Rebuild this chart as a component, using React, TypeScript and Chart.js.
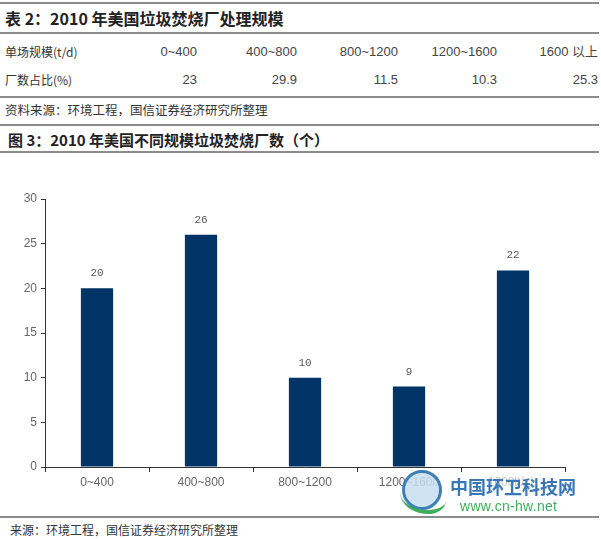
import React, { useEffect, useRef } from "react";
import { Chart, registerables } from "chart.js";

Chart.register(...registerables);

const tableTitle = "表 2：2010 年美国垃圾焚烧厂处理规模";
const tableRowLabels = ["单场规模(t/d)", "厂数占比(%)"];
const tableScales = ["0~400", "400~800", "800~1200", "1200~1600", "1600 以上"];
const tableShares = ["23", "29.9", "11.5", "10.3", "25.3"];
const tableSource = "资料来源：环境工程，国信证券经济研究所整理";

const chartTitle = "图 3：2010 年美国不同规模垃圾焚烧厂数（个）";
const categories = ["0~400", "400~800", "800~1200", "1200~1600", "1600以上"];
const plantCounts = [20, 26, 10, 9, 22];
const yTicks = [0, 5, 10, 15, 20, 25, 30];
const chartSource = "来源：环境工程，国信证券经济研究所整理";

const LINE = "#8c8c8c";
const CJK = '"Noto Sans CJK SC", "Noto Sans", sans-serif';

const hLine = (top: number, width = 599): React.CSSProperties => ({
  position: "absolute",
  left: 0,
  top,
  width,
  height: 2,
  background: LINE,
});

const valueLabelPlugin = {
  id: "valueLabels",
  afterDatasetsDraw(chart: any) {
    const ctx = chart.ctx;
    const meta = chart.getDatasetMeta(0);
    ctx.save();
    ctx.font = '11px "Liberation Mono", monospace';
    ctx.fillStyle = "#555";
    ctx.textAlign = "center";
    ctx.textBaseline = "middle";
    meta.data.forEach((bar: any, i: number) => {
      ctx.fillText(String(chart.data.datasets[0].data[i]), bar.x, bar.y - 15);
    });
    ctx.restore();
  },
};

function BarChart() {
  const ref = useRef<HTMLCanvasElement>(null);
  useEffect(() => {
    if (!ref.current) return;
    const chart = new Chart(ref.current, {
      type: "bar",
      data: {
        labels: categories,
        datasets: [
          {
            data: plantCounts,
            backgroundColor: "#003366",
            borderWidth: 0,
            categoryPercentage: 1,
            barPercentage: 0.31,
          },
        ],
      },
      options: {
        animation: false,
        responsive: false,
        maintainAspectRatio: false,
        layout: { padding: { top: 39, right: 36, left: 0, bottom: 0 } },
        plugins: { legend: { display: false }, tooltip: { enabled: false } },
        scales: {
          x: {
            offset: true,
            afterFit: (s: any) => {
              s.height = 38;
            },
            grid: {
              display: true,
              offset: true,
              drawOnChartArea: false,
              drawTicks: true,
              tickLength: 5,
              color: "#333",
            },
            border: { display: true, color: "#333", width: 1 },
            ticks: {
              color: "#666",
              font: { family: '"Liberation Sans", Arial, sans-serif', size: 12 },
              padding: 3,
            },
          },
          y: {
            min: 0,
            max: 30,
            afterFit: (s: any) => {
              s.width = 45;
            },
            afterBuildTicks: (s: any) => {
              s.ticks = yTicks.map((v) => ({ value: v }));
            },
            grid: {
              display: true,
              drawOnChartArea: false,
              drawTicks: true,
              tickLength: 4,
              color: "#333",
            },
            border: { display: true, color: "#333", width: 1 },
            ticks: {
              color: "#666",
              font: { family: '"Liberation Sans", Arial, sans-serif', size: 12 },
              padding: 4,
            },
          },
        },
      },
      plugins: [valueLabelPlugin],
    });
    return () => chart.destroy();
  }, []);
  return (
    <canvas
      ref={ref}
      width={601}
      height={345}
      style={{ position: "absolute", left: 0, top: 160, width: 601, height: 345 }}
    />
  );
}

export default function App() {
  const colRight = [197, 297, 398, 497, 598];
  return (
    <div
      style={{
        position: "absolute",
        left: 0,
        top: 0,
        width: 601,
        height: 539,
        background: "#fff",
        overflow: "hidden",
        fontFamily: CJK,
      }}
    >
      <div style={hLine(2)} />
      <div
        style={{
          position: "absolute",
          left: 5,
          top: 7,
          fontSize: 16,
          fontWeight: 700,
          color: "#222",
          lineHeight: "22px",
          whiteSpace: "nowrap",
        }}
      >
        {tableTitle}
      </div>
      <div style={hLine(32)} />
      {tableRowLabels.map((t, r) => (
        <div
          key={t}
          style={{
            position: "absolute",
            left: 5,
            top: 52 + r * 28 - 9,
            fontSize: 12,
            lineHeight: "18px",
            color: "#333",
            whiteSpace: "nowrap",
          }}
        >
          {t}
        </div>
      ))}
      {[tableScales, tableShares].map((row, r) =>
        row.map((v, c) => (
          <div
            key={r + "-" + c}
            style={{
              position: "absolute",
              left: colRight[c] - 100,
              width: 100,
              textAlign: "right",
              top: 52 + r * 28 - 9,
              fontSize: 13,
              lineHeight: "18px",
              color: "#444",
              fontFamily: '"Liberation Sans", Arial, ' + CJK,
              whiteSpace: "nowrap",
            }}
          >
            {v}
          </div>
        ))
      )}
      <div style={hLine(96)} />
      <div
        style={{
          position: "absolute",
          left: 5,
          top: 101,
          fontSize: 12.5,
          lineHeight: "18px",
          color: "#333",
          whiteSpace: "nowrap",
        }}
      >
        {tableSource}
      </div>
      <div style={hLine(124)} />
      <div
        style={{
          position: "absolute",
          left: 8,
          top: 130,
          fontSize: 15,
          fontWeight: 700,
          lineHeight: "20px",
          color: "#222",
          whiteSpace: "nowrap",
        }}
      >
        {chartTitle}
      </div>
      <div style={hLine(151)} />
      <BarChart />
      <div style={hLine(516)} />
      <div
        style={{
          position: "absolute",
          left: 10,
          top: 521,
          fontSize: 12,
          lineHeight: "18px",
          color: "#333",
          whiteSpace: "nowrap",
        }}
      >
        {chartSource}
      </div>
      {/* watermark */}
      <div
        style={{
          position: "absolute",
          left: 402,
          top: 470,
          width: 40,
          height: 40,
          borderRadius: "50%",
          border: "3px solid #3f7fb8",
          background: "rgba(200,222,240,0.85)",
          boxSizing: "border-box",
        }}
      />
      <div
        style={{
          position: "absolute",
          left: 400,
          top: 492,
          width: 46,
          height: 22,
          borderBottomLeftRadius: "60% 100%",
          borderBottomRightRadius: "40% 60%",
          borderBottom: "4px solid #3fae5a",
          boxSizing: "border-box",
        }}
      />
      <div
        style={{
          position: "absolute",
          left: 450,
          top: 475,
          fontSize: 18,
          fontWeight: 700,
          color: "#3a78b5",
          lineHeight: "22px",
          whiteSpace: "nowrap",
          background: "rgba(255,255,255,0.6)",
        }}
      >
        中国环卫科技网
      </div>
      <div
        style={{
          position: "absolute",
          left: 460,
          top: 498,
          fontSize: 14,
          color: "#3fae5a",
          lineHeight: "16px",
          fontFamily: '"Liberation Sans", Arial, sans-serif',
          whiteSpace: "nowrap",
          letterSpacing: 0.3,
        }}
      >
        www.cn-hw.net
      </div>
    </div>
  );
}
